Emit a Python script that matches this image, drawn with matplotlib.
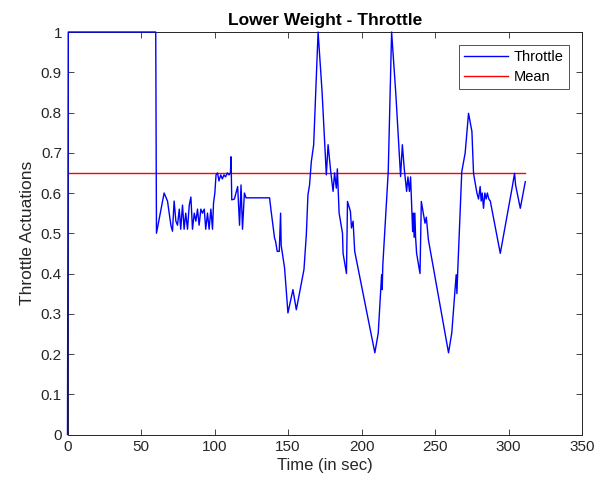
import matplotlib
matplotlib.use("Agg")
import matplotlib.pyplot as plt

time_s = [0, 0.5, 60, 60.5, 65.7, 68, 70.3, 71.4, 72.5, 73.7, 74.8, 76, 77, 78.2, 79.3,
          80.4, 81.6, 82.8, 83.9, 85, 86.2, 87.3, 88.4, 89.5, 90.7, 91.8, 93, 94, 95.2,
          96.3, 97.5, 98.6, 99.3, 100.2, 101, 102, 103, 104.2, 105.3, 106.4, 107.5,
          108.7, 109.8, 110.8, 111.2, 111.7, 113.5, 115.7, 117, 118, 119, 120.3, 121.4,
          137.4, 138.5, 140.8, 141.5, 142.6, 144, 144.9, 145.3, 147.6, 149.9, 153.3,
          155.6, 160.8, 162.4, 163.5, 164.6, 165.8, 167.4, 170.4, 173.1, 176, 177.2,
          179, 180.6, 181.6, 182.8, 183.5, 184.7, 187, 187.4, 189.7, 190.4, 192.4,
          193.1, 194.2, 195.3, 209, 211.3, 213.6, 214, 214.4, 218.1, 220.4, 223.3,
          224.9, 226.5, 227.7, 229, 230.6, 231.5, 232.5, 233.3, 234.7, 235.2, 235.7,
          236.2, 236.7, 237.4, 239.7, 240.6, 243.1, 244, 245.4, 259.1, 261.3, 264.3,
          264.8, 265.3, 268.1, 270.4, 272.7, 275, 276.1, 278.4, 279.5, 280.6, 281.3,
          282, 282.9, 283.8, 284.7, 285.5, 286.5, 287.5, 294.3, 302.3, 304, 304.7,
          307.9, 311.3]
throttle = [0, 1, 1, 0.50, 0.60, 0.58, 0.52, 0.505, 0.58, 0.53, 0.52, 0.56, 0.51, 0.57,
            0.51, 0.55, 0.51, 0.57, 0.59, 0.51, 0.55, 0.53, 0.56, 0.52, 0.56, 0.55, 0.56,
            0.51, 0.55, 0.51, 0.56, 0.51, 0.575, 0.60, 0.645, 0.65, 0.63, 0.645, 0.635,
            0.645, 0.64, 0.65, 0.645, 0.65, 0.69, 0.583, 0.585, 0.616, 0.52, 0.62, 0.51,
            0.60, 0.588, 0.588, 0.554, 0.488, 0.48, 0.455, 0.455, 0.55, 0.47, 0.414,
            0.302, 0.36, 0.31, 0.41, 0.496, 0.595, 0.62, 0.678, 0.72, 1.0, 0.852, 0.645,
            0.72, 0.653, 0.604, 0.65, 0.612, 0.66, 0.55, 0.50, 0.45, 0.40, 0.579, 0.554,
            0.513, 0.53, 0.455, 0.203, 0.252, 0.397, 0.36, 0.42, 0.653, 1.0, 0.844,
            0.744, 0.641, 0.72, 0.66, 0.604, 0.64, 0.604, 0.64, 0.504, 0.55, 0.49, 0.55,
            0.49, 0.45, 0.40, 0.579, 0.525, 0.54, 0.484, 0.203, 0.252, 0.397, 0.35,
            0.40, 0.653, 0.699, 0.798, 0.753, 0.649, 0.60, 0.585, 0.616, 0.58, 0.60,
            0.562, 0.60, 0.585, 0.60, 0.585, 0.58, 0.45, 0.612, 0.649, 0.62, 0.562,
            0.628]
mean_value = 0.65
mean_span = [0, 311.3]

x_ticks = [0, 50, 100, 150, 200, 250, 300, 350]
y_ticks = [0, 0.1, 0.2, 0.3, 0.4, 0.5, 0.6, 0.7, 0.8, 0.9, 1]
y_tick_labels = ["0", "0.1", "0.2", "0.3", "0.4", "0.5", "0.6", "0.7", "0.8", "0.9", "1"]

plt.rcParams['font.family'] = ['Liberation Sans', 'DejaVu Sans']
fig = plt.figure(figsize=(6.05, 4.88), dpi=100)
ax = fig.add_axes([67.5 / 605, 1 - 434.5 / 488, (582.2 - 67.5) / 605, (434.5 - 32) / 488])

ax.plot(time_s, throttle, color='#0000FF', lw=1.0, label='Throttle', clip_on=False, zorder=3)
ax.plot(mean_span, [mean_value, mean_value], color='#FF0000', lw=1.0, label='Mean', zorder=2)

ax.set_xlim(0, 350)
ax.set_ylim(0, 1)
ax.set_xticks(x_ticks)
ax.set_yticks(y_ticks)
ax.set_yticklabels(y_tick_labels)
ax.tick_params(direction='in', top=True, right=True, labelsize=11, colors='#262626',
               length=4, width=0.6, pad=4)
for s in ax.spines.values():
    s.set_color('#262626')
    s.set_linewidth(0.7)

ax.set_title('Lower Weight - Throttle', fontsize=12.5, fontweight='bold', color='black', pad=5)
ax.set_xlabel('Time (in sec)', fontsize=12, color='#262626', labelpad=3)
ax.set_ylabel('Throttle Actuations', fontsize=12.5, color='#262626', labelpad=4)

leg = ax.legend(loc='upper right', fontsize=10.5, frameon=True, fancybox=False,
                edgecolor='#262626', handlelength=3.0, borderaxespad=0.9,
                handletextpad=0.45, labelspacing=0.4, borderpad=0.35)
leg.get_frame().set_linewidth(0.7)

fig.savefig('out.png', dpi=100)
